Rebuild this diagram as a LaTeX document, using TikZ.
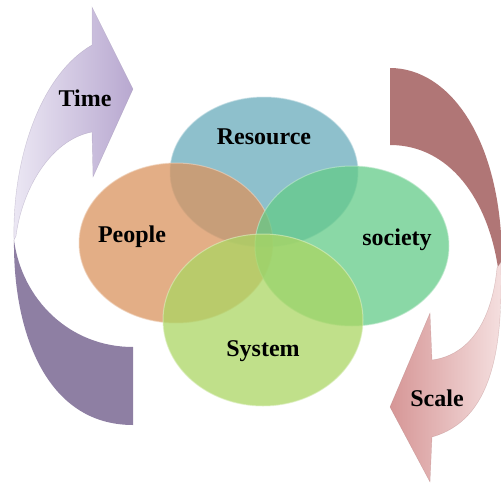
\documentclass[tikz,border=0pt]{standalone}
\usepackage{fontspec}
\setmainfont{Liberation Serif}
\begin{document}
\begin{tikzpicture}[x=1pt,y=-1pt,
  lbl/.style={font=\fontsize{24}{28}\selectfont\bfseries, text=black, inner sep=0pt},
  disc/.style={fill opacity=0.75, draw opacity=0.6, line width=1pt}]
\useasboundingbox (0,0) rectangle (501,485);
\definecolor{cres}{RGB}{104,171,187}
\definecolor{cpeo}{RGB}{218,147,94}
\definecolor{csoc}{RGB}{99,203,136}
\definecolor{csys}{RGB}{171,214,99}
\definecolor{ldark}{RGB}{142,127,163}
\definecolor{llight}{RGB}{236,232,244}
\definecolor{lmid}{RGB}{184,168,208}
\definecolor{rdark}{RGB}{176,118,118}
\definecolor{rlight}{RGB}{245,224,224}
\definecolor{rmid}{RGB}{214,150,150}
% left arrow (Time)
\fill[ldark] (133,347) -- (133,425) .. controls (45,425) and (13,330) .. (14,240)
  .. controls (22,300) and (70,347) .. (133,347) -- cycle;
\path[left color=llight, right color=lmid, draw=lmid!80!black, draw opacity=0.4]
  (14,240) .. controls (12,160) and (40,75) .. (92,45) -- (92,7) -- (133,89)
  -- (93,177) -- (92,132) .. controls (50,140) and (22,190) .. (16,236) -- cycle;
% right arrow (Scale)
\fill[rdark] (390,145) -- (390,68) .. controls (450,68) and (502,140) .. (502,262)
  -- (498,268) .. controls (488,200) and (450,145) .. (390,145) -- cycle;
\path[left color=rmid, right color=rlight, draw=rmid!80!black, draw opacity=0.4]
  (501,262) .. controls (503,350) and (492,420) .. (432,437) -- (430,482) -- (390,407)
  -- (430,313) -- (432,360) .. controls (470,355) and (492,320) .. (497,268) -- cycle;
% circles
\path[disc, fill=cres, draw=cres!40!white] (264,172) ellipse [x radius=94, y radius=75];
\path[disc, fill=cpeo, draw=cpeo!40!white] (176,243) ellipse [x radius=97, y radius=80];
\path[disc, fill=csoc, draw=csoc!40!white] (352,246) ellipse [x radius=97, y radius=80];
\path[disc, fill=csys, draw=csys!40!white] (263,320) ellipse [x radius=100, y radius=86];
% labels
\node[lbl] (time) at (85,98) {Time};
\node[lbl] (scale) at (437,398) {Scale};
\node[lbl] (resource) at (264,137) {Resource};
\node[lbl] (people) at (132,237) {People};
\node[lbl] (society) at (397,240) {society};
\node[lbl] (system) at (263,351) {System};
\end{tikzpicture}
\end{document}
